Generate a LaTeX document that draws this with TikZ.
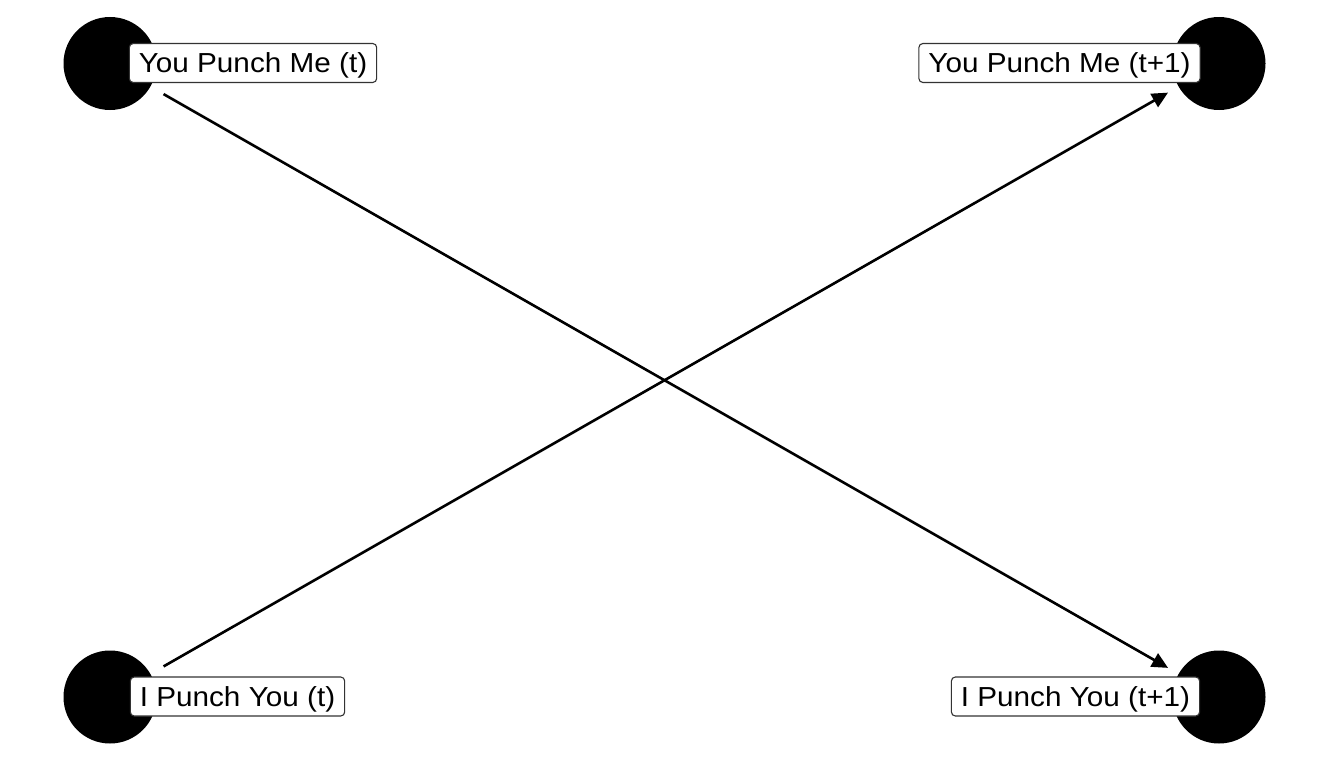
\documentclass[tikz,border=0pt]{standalone}
\usepackage{fontspec}
\setmainfont{Liberation Sans}
\newfontfamily\lblfont[FakeStretch=1.08]{Liberation Sans}
\usetikzlibrary{arrows.meta}
\begin{document}
\begin{tikzpicture}[x=1pt,y=-1pt,
  dot/.style={circle,fill=black,inner sep=0pt,minimum size=93pt},
  lbl/.style={draw=black!80,line width=1.1pt,fill=white,rounded corners=4pt,
    inner xsep=9.5pt,inner ysep=0pt,text height=29.5pt,text depth=9.5pt,
    font=\lblfont\fontsize{27.5}{32}\selectfont},
  edge/.style={line width=2.6pt,-{Triangle[length=16pt,width=15pt]},
    shorten <=15pt,shorten >=12pt}]
\useasboundingbox[fill=white] (0,0) rectangle (1330,760);
\node[dot] (c1) at (110,63.5) {};
\node[dot] (c2) at (1219,63.5) {};
\node[dot] (c3) at (110,697) {};
\node[dot] (c4) at (1219,697) {};
\draw[edge] (c1) -- (c4);
\draw[edge] (c3) -- (c2);
\node[lbl] (l1) at (253,63) {You Punch Me (t)};
\node[lbl] (l2) at (1059.5,63) {You Punch Me (t+1)};
\node[lbl] (l3) at (237.5,696.5) {I Punch You (t)};
\node[lbl] (l4) at (1075.5,696.5) {I Punch You (t+1)};
\end{tikzpicture}
\end{document}
